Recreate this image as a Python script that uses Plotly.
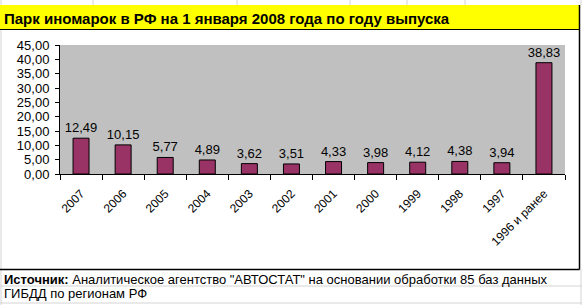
import plotly.graph_objects as go

categories = ["2007", "2006", "2005", "2004", "2003", "2002", "2001", "2000",
              "1999", "1998", "1997", "1996 и ранее"]
values = [12.49, 10.15, 5.77, 4.89, 3.62, 3.51, 4.33, 3.98, 4.12, 4.38, 3.94, 38.83]
y_ticks = [0, 5, 10, 15, 20, 25, 30, 35, 40, 45]

title_text = "Парк иномарок в РФ на 1 января 2008 года по году выпуска"
source_bold = "Источник:"
source_line1 = " Аналитическое агентство \"АВТОСТАТ\" на основании обработки 85 баз данных"
source_line2 = "ГИБДД по регионам РФ"

W, H = 582, 305
FONT = "Arial, Liberation Sans, sans-serif"


def px(x):
    return x / W


def py(y):
    return 1 - y / H


fig = go.Figure()
fig.add_trace(go.Bar(
    x=categories, y=values,
    marker=dict(color="#993366", line=dict(color="black", width=1)),
    width=0.38,
    text=values, texttemplate="%{y:.2f}", textposition="outside",
    constraintext="none",
    textfont=dict(family=FONT, size=13, color="black"),
    cliponaxis=False,
))

shapes = []
# spreadsheet grid lines (faint)
for gx in [1, 93, 237, 350, 407, 465, 581]:
    shapes.append(dict(type="line", xref="paper", yref="paper",
                       x0=px(gx), x1=px(gx), y0=py(0), y1=py(5),
                       line=dict(color="#d4d4d4", width=1)))
shapes.append(dict(type="line", xref="paper", yref="paper",
                   x0=px(1), x1=px(1), y0=py(29), y1=py(305),
                   line=dict(color="#d4d4d4", width=1)))
for gy in [286, 303]:
    shapes.append(dict(type="line", xref="paper", yref="paper",
                       x0=0, x1=1, y0=py(gy), y1=py(gy),
                       line=dict(color="#d4d4d4", width=1)))
shapes.append(dict(type="line", xref="paper", yref="paper",
                   x0=px(581), x1=px(581), y0=py(269), y1=py(305),
                   line=dict(color="#d4d4d4", width=1)))
# yellow title band
shapes.append(dict(type="rect", xref="paper", yref="paper",
                   x0=0, x1=px(579), y0=py(29), y1=py(5),
                   fillcolor="#ffff00", line=dict(width=0), layer="below"))
# chart border
shapes.append(dict(type="line", xref="paper", yref="paper",
                   x0=0, x1=px(579.5), y0=py(29.5), y1=py(29.5),
                   line=dict(color="black", width=1)))
shapes.append(dict(type="line", xref="paper", yref="paper",
                   x0=px(579.5), x1=px(579.5), y0=py(5), y1=py(269.5),
                   line=dict(color="black", width=1.5)))
shapes.append(dict(type="line", xref="paper", yref="paper",
                   x0=0, x1=px(579.5), y0=py(269.5), y1=py(269.5),
                   line=dict(color="black", width=1.5)))

annotations = [
    dict(text="<b>" + title_text + "</b>", xref="paper", yref="paper",
         x=px(2), y=py(29), xanchor="left", yanchor="bottom",
         showarrow=False, font=dict(family=FONT, size=15, color="black")),
    dict(text="<b>" + source_bold + "</b>" + source_line1,
         xref="paper", yref="paper", x=px(2), y=py(270), xanchor="left", yanchor="top",
         align="left", showarrow=False,
         font=dict(family=FONT, size=13, color="black")),
    dict(text=source_line2,
         xref="paper", yref="paper", x=px(2), y=py(284), xanchor="left", yanchor="top",
         align="left", showarrow=False,
         font=dict(family=FONT, size=13, color="black")),
]

fig.update_layout(
    width=W, height=H,
    margin=dict(l=0, r=0, t=0, b=0),
    paper_bgcolor="white",
    plot_bgcolor="#c0c0c0",
    separators=", ",
    showlegend=False,
    shapes=shapes,
    annotations=annotations,
    xaxis=dict(domain=[px(60), px(565)], type="category",
               showline=True, linecolor="black", linewidth=1,
               ticks="outside", ticklen=5, tickcolor="black", tickson="boundaries",
               tickangle=-45, ticklabelstandoff=7,
               tickfont=dict(family=FONT, size=12, color="black"),
               showgrid=False, automargin=False),
    yaxis=dict(domain=[py(174), py(45)], range=[0, 45], tickvals=y_ticks,
               tickformat=".2f", showline=True, linecolor="black", linewidth=1,
               ticks="outside", ticklen=4, tickcolor="black", ticklabelstandoff=3,
               tickfont=dict(family=FONT, size=13, color="black"),
               showgrid=False, zeroline=False, automargin=False),
)

fig.write_html("out.html")
